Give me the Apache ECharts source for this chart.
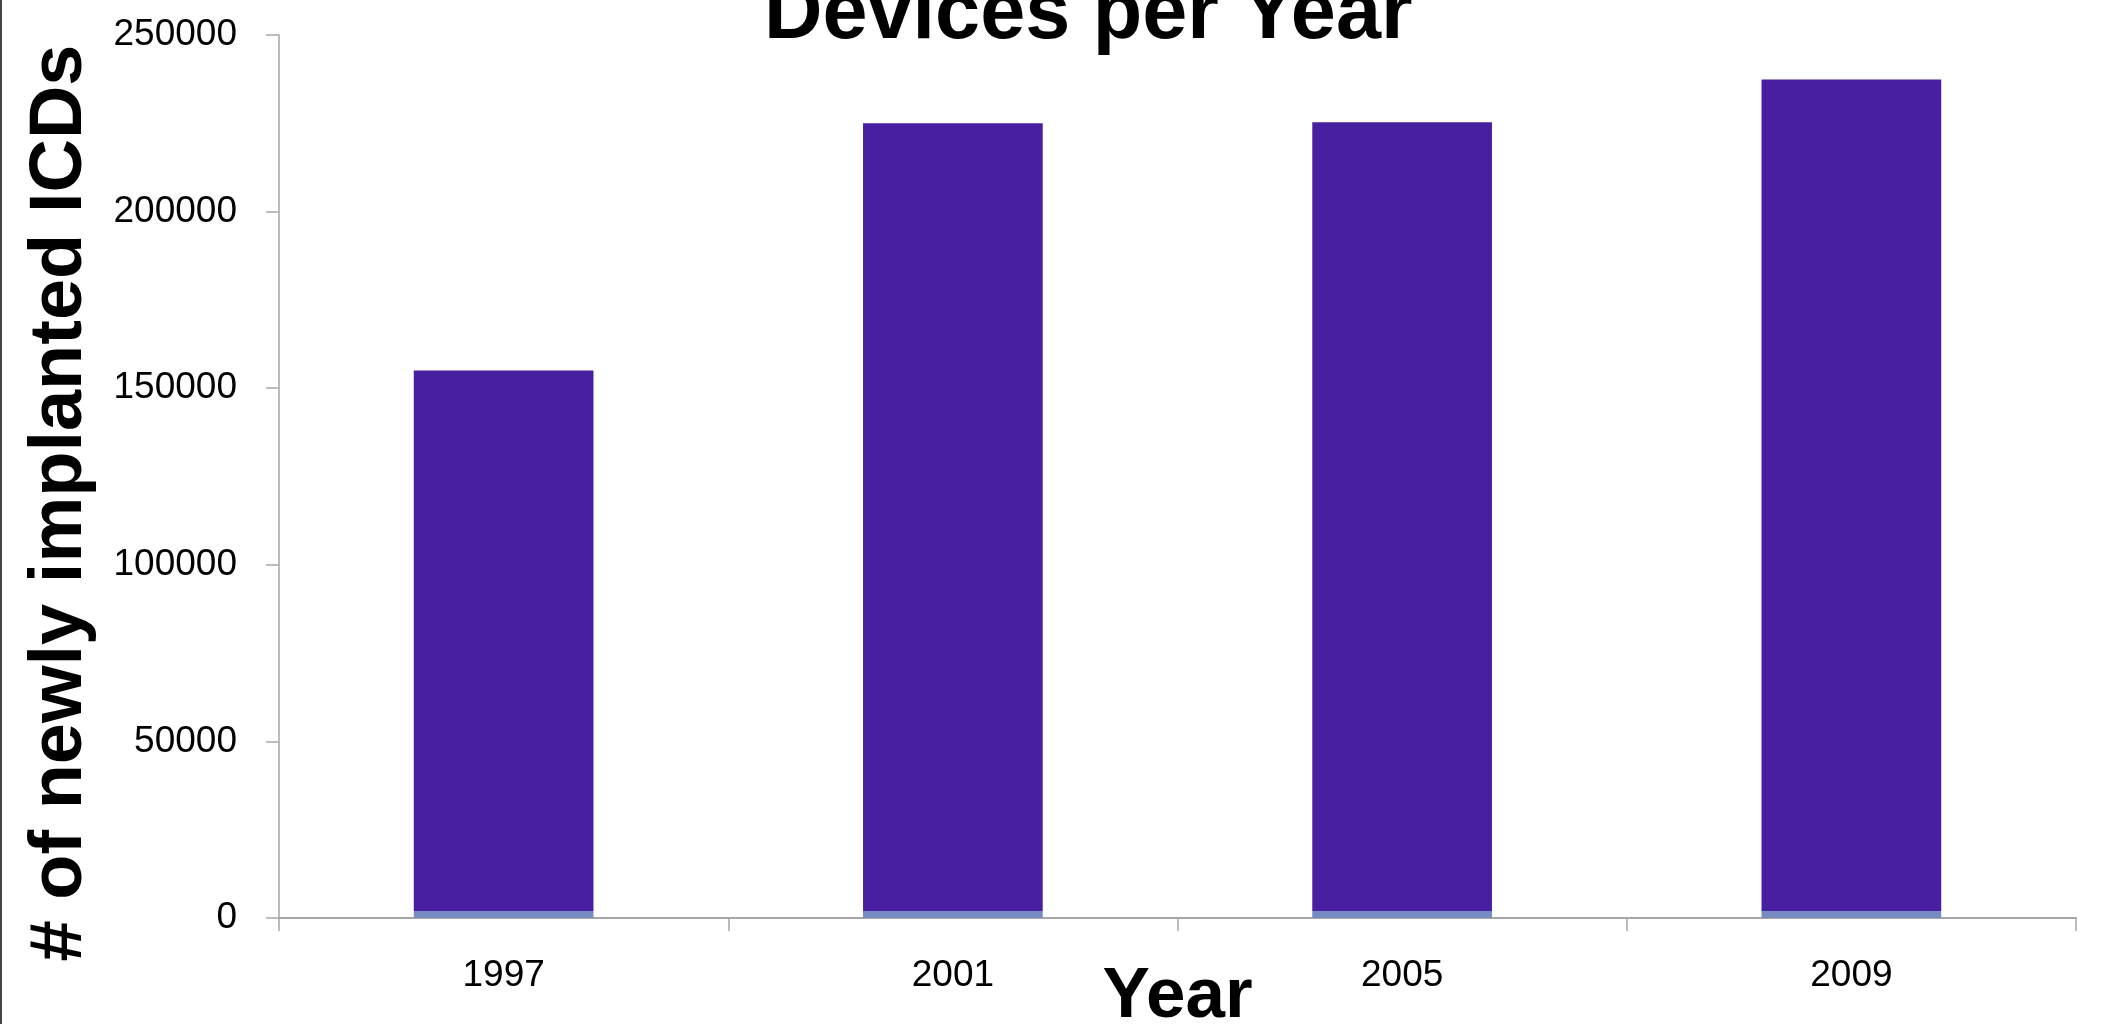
<!DOCTYPE html>
<html>
<head>
<meta charset="utf-8">
<script src="https://cdn.jsdelivr.net/npm/echarts@6/dist/echarts.min.js"></script>
<style>
  html, body { margin: 0; padding: 0; background: #ffffff; }
  #chart { width: 2120px; height: 1024px; }
</style>
</head>
<body>
<div id="chart"></div>
<script>
const categories = ['1997', '2001', '2005', '2009'];
const baseValues = [2000, 2000, 2000, 2000];
const mainValues = [153000, 223000, 223300, 235400];
const yTicks = { min: 0, max: 250000, interval: 50000 };

const FONT = '"Liberation Sans", Arial, sans-serif';
const chart = echarts.init(document.getElementById('chart'), null, { renderer: 'canvas' });

chart.setOption({
  backgroundColor: '#ffffff',
  animation: false,
  title: {
    text: 'Devices per Year',
    left: 764,
    top: -25,
    padding: 0,
    textStyle: { fontFamily: FONT, fontWeight: 'bold', fontSize: 81, color: '#000000' }
  },
  grid: { left: 279, right: 44, top: 35, bottom: 106, containLabel: false, outerBoundsMode: 'none' },
  xAxis: {
    type: 'category',
    data: categories,
    name: 'Year',
    nameLocation: 'middle',
    nameGap: 44,
    nameMoveOverlap: false,
    nameTextStyle: { fontFamily: FONT, fontWeight: 'bold', fontSize: 71, color: '#000000' },
    axisLine: { show: true, lineStyle: { color: '#A6A6A6', width: 2 } },
    axisTick: { show: true, length: 13, lineStyle: { color: '#A6A6A6', width: 1.5 } },
    axisLabel: { margin: 39, fontFamily: FONT, fontSize: 37, color: '#000000' },
    splitLine: { show: false }
  },
  yAxis: {
    type: 'value',
    min: yTicks.min,
    max: yTicks.max,
    interval: yTicks.interval,
    axisLine: { show: true, lineStyle: { color: '#A6A6A6', width: 1.5 } },
    axisTick: { show: true, length: 13, lineStyle: { color: '#A6A6A6', width: 1.5 } },
    axisLabel: {
      margin: 42, fontFamily: FONT, fontSize: 37, color: '#000000',
      formatter: function (v) { return String(v); }
    },
    splitLine: { show: false }
  },
  series: [
    {
      name: 'base',
      type: 'bar',
      stack: 'total',
      data: baseValues,
      barWidth: '40%',
      itemStyle: { color: '#778BC3' }
    },
    {
      name: 'devices',
      type: 'bar',
      stack: 'total',
      data: mainValues,
      barWidth: '40%',
      itemStyle: { color: '#471FA0' }
    }
  ],
  graphic: [
    {
      type: 'rect',
      shape: { x: 0, y: 0, width: 2, height: 1024 },
      style: { fill: '#444444' }
    },
    {
      type: 'text',
      x: 61,
      y: 503,
      rotation: Math.PI / 2,
      style: {
        text: '# of newly implanted ICDs',
        font: 'bold 74px ' + FONT,
        fill: '#000000',
        textAlign: 'center',
        textVerticalAlign: 'middle'
      }
    }
  ]
});
</script>
</body>
</html>
